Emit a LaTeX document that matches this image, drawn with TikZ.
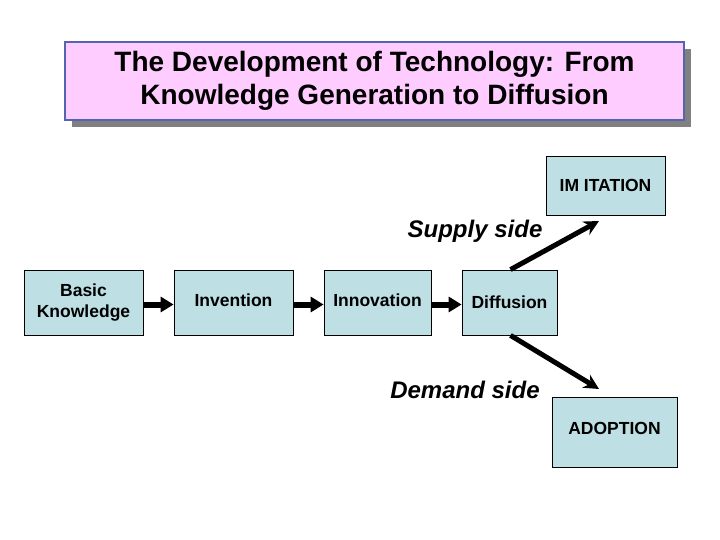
\documentclass[tikz,border=0pt]{standalone}
\usepackage{fontspec}
\setmainfont{Liberation Sans}
\usetikzlibrary{arrows.meta,shadows}
\definecolor{boxblue}{RGB}{190,224,228}
\definecolor{titlepink}{RGB}{255,204,255}
\definecolor{titleedge}{RGB}{84,100,176}

\begin{document}
\begin{tikzpicture}[x=1pt,y=-1pt,
   box/.style={draw=black,fill=boxblue,line width=0.8pt,inner sep=0pt,align=center,
      font=\fontsize{17.5}{21}\selectfont\bfseries},
   titlebox/.style={draw=titleedge,fill=titlepink,line width=1.6pt,
      drop shadow={shadow xshift=7pt,shadow yshift=-7pt,fill=black!50,opacity=1},
      minimum width=619pt,minimum height=78pt,inner sep=0pt},
   side/.style={font=\fontsize{24}{28}\selectfont\bfseries\itshape,anchor=base,inner sep=0pt},
   flow/.style={line width=6pt,-{Triangle[length=13pt,width=15pt]}},
   branch/.style={line width=5pt,-{Stealth[length=15pt,width=15pt,inset=5pt]}}
]
\useasboundingbox (0,0) rectangle (720,540);
\node[titlebox] (T) at (374.5,81) {};
\node[align=center,font=\fontsize{28}{33}\selectfont\bfseries] (Ttext) at (T) {The Development of Technology: From\\Knowledge Generation to Diffusion};

\node[box,minimum width=119pt,minimum height=65pt] (BK) at (83.5,302.5) {Basic\\Knowledge};
\node[box,minimum width=119pt,minimum height=65pt,text depth=5pt] (INV) at (233.5,302.5) {Invention};
\node[box,minimum width=107pt,minimum height=65pt,text depth=5pt] (INN) at (377.5,302.5) {Innovation};
\node[box,minimum width=95pt,minimum height=65pt] (DIF) at (509.5,302.5) {Diffusion};
\node[box,minimum width=119pt,minimum height=59pt] (IMI) at (605.5,185.5) {IM ITATION};
\node[box,minimum width=125pt,minimum height=70pt,text depth=7.5pt] (ADO) at (614.5,432) {ADOPTION};

\node[side] (S) at (475,237) {Supply side};
\node[side] (D) at (465,398) {Demand side};

\foreach \From/\To in {BK/INV,INV/INN,INN/DIF}
  \draw[flow] ([yshift=-2pt]\From.east) -- ([yshift=-2pt]\To.west);

\coordinate (imitend) at (599,221);
\coordinate (adoend) at (599,389);
\draw[branch] ([xshift=1pt]DIF.north) -- (imitend);
\draw[branch] ([xshift=1pt]DIF.south) -- (adoend);
\end{tikzpicture}
\end{document}
